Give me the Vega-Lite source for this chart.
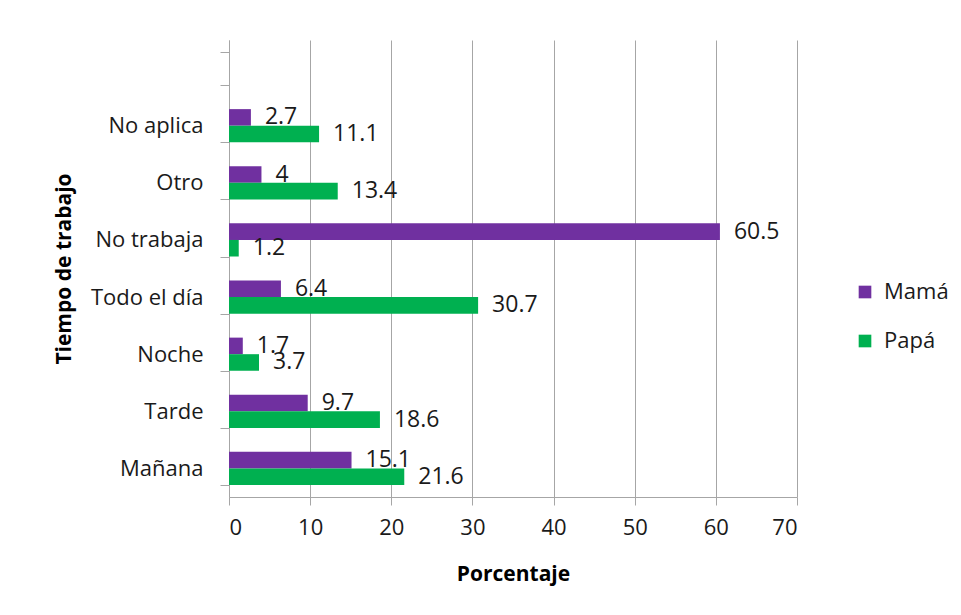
{
  "$schema": "https://vega.github.io/schema/vega-lite/v6.json",
  "autosize": {"type": "none"},
  "width": 568,
  "height": 457,
  "padding": {"left": 229, "top": 40, "right": 164, "bottom": 118},
  "background": "white",
  "config": {"view": {"stroke": null}, "font": "Open Sans"},
  "data": {
    "values": [
      {"cat": "No aplica", "serie": "Mamá", "value": 2.7},
      {"cat": "No aplica", "serie": "Papá", "value": 11.1},
      {"cat": "Otro", "serie": "Mamá", "value": 4},
      {"cat": "Otro", "serie": "Papá", "value": 13.4},
      {"cat": "No trabaja", "serie": "Mamá", "value": 60.5},
      {"cat": "No trabaja", "serie": "Papá", "value": 1.2},
      {"cat": "Todo el día", "serie": "Mamá", "value": 6.4},
      {"cat": "Todo el día", "serie": "Papá", "value": 30.7},
      {"cat": "Noche", "serie": "Mamá", "value": 1.7},
      {"cat": "Noche", "serie": "Papá", "value": 3.7},
      {"cat": "Tarde", "serie": "Mamá", "value": 9.7},
      {"cat": "Tarde", "serie": "Papá", "value": 18.6},
      {"cat": "Mañana", "serie": "Mamá", "value": 15.1},
      {"cat": "Mañana", "serie": "Papá", "value": 21.6}
    ]
  },
  "encoding": {
    "y": {
      "field": "cat",
      "type": "nominal",
      "title": "Tiempo de trabajo",
      "scale": {
        "domain": [" ", "No aplica", "Otro", "No trabaja", "Todo el día", "Noche", "Tarde", "Mañana"],
        "paddingInner": 0.42,
        "paddingOuter": 0.21
      },
      "axis": {
        "tickBand": "extent",
        "tickSize": 9,
        "tickColor": "#A6A6A6",
        "domainColor": "#A6A6A6",
        "grid": false,
        "labelPadding": 17,
        "labelFontSize": 22,
        "labelColor": "#1a1a1a",
        "titleFontSize": 21,
        "titleFontWeight": "bold",
        "titleColor": "#000000",
        "titlePadding": 16
      }
    },
    "yOffset": {"field": "serie", "scale": {"domain": ["Mamá", "Papá"]}}
  },
  "layer": [
    {
      "mark": {"type": "bar"},
      "encoding": {
        "x": {
          "field": "value",
          "type": "quantitative",
          "title": "Porcentaje",
          "scale": {"domain": [0, 70], "nice": false},
          "axis": {
            "values": [0, 10, 20, 30, 40, 50, 60, 70],
            "grid": true,
            "gridColor": "#A6A6A6",
            "gridOpacity": 1,
            "tickColor": "#A6A6A6",
            "domainColor": "#A6A6A6",
            "tickSize": 8,
            "labelPadding": 12,
            "labelFontSize": 22,
            "labelColor": "#1a1a1a",
            "titleFontSize": 21,
            "titleFontWeight": "bold",
            "titleColor": "#000000",
            "titlePadding": 25
          }
        },
        "color": {
          "field": "serie",
          "type": "nominal",
          "scale": {"domain": ["Mamá", "Papá"], "range": ["#7030A0", "#00B050"]},
          "legend": {
            "title": null,
            "orient": "none",
            "legendX": 625,
            "legendY": 241,
            "symbolType": "square",
            "symbolSize": 160,
            "symbolStrokeWidth": 0,
            "labelFontSize": 22,
            "labelColor": "#1a1a1a",
            "rowPadding": 27,
            "labelOffset": 8
          }
        }
      }
    },
    {
      "mark": {"type": "text", "align": "left", "baseline": "middle", "dx": 14, "fontSize": 23, "color": "#1a1a1a"},
      "encoding": {
        "x": {"field": "value", "type": "quantitative"},
        "text": {"field": "value", "type": "quantitative"}
      }
    }
  ]
}
